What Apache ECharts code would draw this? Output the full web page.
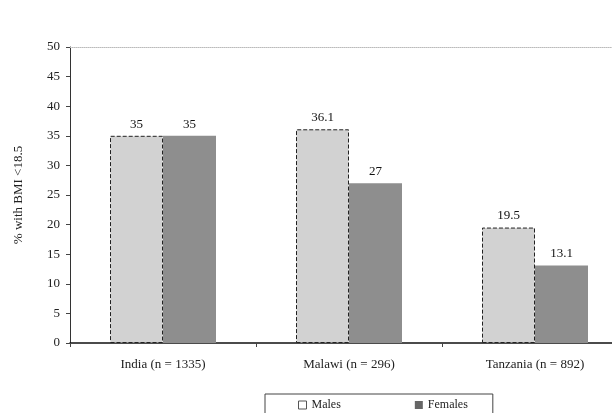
<!DOCTYPE html>
<html><head><meta charset="utf-8">
<script src="https://cdn.jsdelivr.net/npm/echarts@6/dist/echarts.min.js"></script>
<style>html,body{margin:0;padding:0;background:#fff;overflow:hidden;width:612px;height:413px}#c{width:630px;height:413px}</style>
</head><body><div id="c"></div>
<script>
const categories = ['India (n = 1335)', 'Malawi (n = 296)', 'Tanzania (n = 892)'];
const males = [35, 36.1, 19.5];
const females = [35, 27, 13.1];
const yTicks = {min: 0, max: 50, interval: 5};
const font = '"Liberation Serif", "DejaVu Serif", serif';
const chart = echarts.init(document.getElementById('c'));
chart.setOption({
  animation: false,
  backgroundColor: '#fff',
  textStyle: {fontFamily: font},
  grid: {left: 70, right: 2, top: 47, bottom: 70, containLabel: false},
  legend: {
    bottom: -8, left: 265, itemGap: 74,
    padding: [5, 25, 10, 33],
    borderColor: '#444', borderWidth: 1,
    itemWidth: 8, itemHeight: 8,
    textStyle: {fontFamily: font, fontSize: 12, color: '#222'},
    data: [
      {name: 'Males', icon: 'rect', itemStyle: {color: '#fff', borderColor: '#555', borderWidth: 1}},
      {name: 'Females', icon: 'rect', itemStyle: {color: '#666'}}
    ]
  },
  xAxis: [{
    type: 'category', data: categories,
    axisLine: {lineStyle: {color: '#111', width: 1.5}},
    axisTick: {show: true, alignWithLabel: false, length: 4, lineStyle: {color: '#444'}},
    axisLabel: {margin: 15, fontSize: 13, color: '#222', fontFamily: font}
  }, {
    type: 'category', data: categories, position: 'top',
    axisLine: {show: true, lineStyle: {color: '#bbb', type: 'dotted', width: 1}},
    axisTick: {show: false}, axisLabel: {show: false}
  }],
  yAxis: {
    type: 'value', min: yTicks.min, max: yTicks.max, interval: yTicks.interval,
    name: '% with BMI <18.5', nameLocation: 'middle', nameGap: 45, nameRotate: 90,
    nameTextStyle: {fontSize: 13, color: '#222', fontFamily: font},
    axisLine: {show: true, lineStyle: {color: '#333', width: 1}},
    axisTick: {show: true, length: 4, lineStyle: {color: '#444'}},
    axisLabel: {fontSize: 13, color: '#222', margin: 10, fontFamily: font},
    splitLine: {show: false}
  },
  series: [{
    name: 'Males', type: 'bar', data: males, barWidth: 53, barGap: '0%',
    itemStyle: {color: '#d2d2d2', borderColor: '#222', borderWidth: 1, borderType: 'dashed'},
    label: {show: true, position: 'top', distance: 5, fontSize: 13, color: '#111', fontFamily: font}
  }, {
    name: 'Females', type: 'bar', data: females, barWidth: 53,
    itemStyle: {color: '#8e8e8e'},
    label: {show: true, position: 'top', distance: 5, fontSize: 13, color: '#111', fontFamily: font}
  }]
});
</script></body></html>
